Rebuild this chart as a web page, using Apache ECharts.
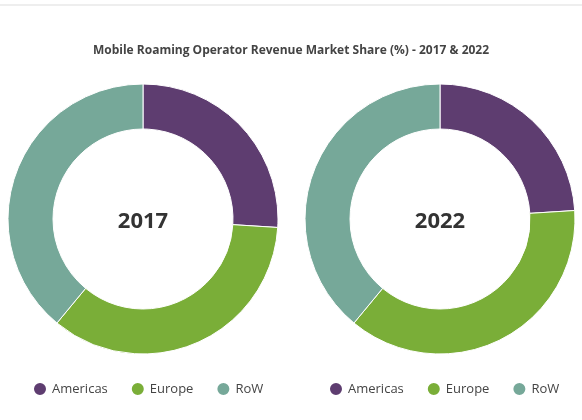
<!DOCTYPE html>
<html><head><meta charset="utf-8">
<script src="https://cdn.jsdelivr.net/npm/echarts@6/dist/echarts.min.js"></script>
<style>body{margin:0}#c{width:582px;height:420px}</style></head>
<body><div id="c"></div>
<script>
const regions = ['Americas', 'Europe', 'RoW'];
const share2017 = [26, 35, 39];
const share2022 = [24, 37, 39];
const colors = ['#5e3d70', '#7aae38', '#76a899'];

const chart = echarts.init(document.getElementById('c'));
const mk = (name, vals, cx) => ({
  type: 'pie', name, center: [cx, 219], radius: [90, 135],
  startAngle: 90, clockwise: true, silent: true,
  label: { show: false }, labelLine: { show: false },
  itemStyle: { borderColor: '#fff', borderWidth: 1 },
  data: regions.map((r, i) => ({ name: r, value: vals[i] }))
});
const legend = left => ({
  data: regions, left, top: 376, icon: 'circle', itemWidth: 14, itemHeight: 14, itemGap: 22,
  textStyle: { fontFamily: 'Open Sans', fontSize: 13, color: '#444' }
});
// centre labels as graphic text so they sit exactly on the ring centre
const centreText = (t, x) => ({
  type: 'text', x, y: 222,
  style: { text: t, align: 'center', verticalAlign: 'middle', fontFamily: 'Open Sans', fontSize: 22, fontWeight: 'bold', fill: '#333' }
});
chart.setOption({
  color: colors,
  title: { text: 'Mobile Roaming Operator Revenue Market Share (%) - 2017 & 2022', left: 'center', top: 40,
    textStyle: { fontFamily: 'Open Sans', fontSize: 12, fontWeight: 'bold', color: '#444' } },
  graphic: [
    { type: 'line', shape: { x1: 0, y1: 5, x2: 582, y2: 5 }, style: { stroke: '#ddd', lineWidth: 1 } },
    centreText('2017', 143), centreText('2022', 440)
  ],
  legend: [legend(27), legend(323)],
  series: [mk('2017', share2017, 143), mk('2022', share2022, 440)]
});
</script></body></html>
